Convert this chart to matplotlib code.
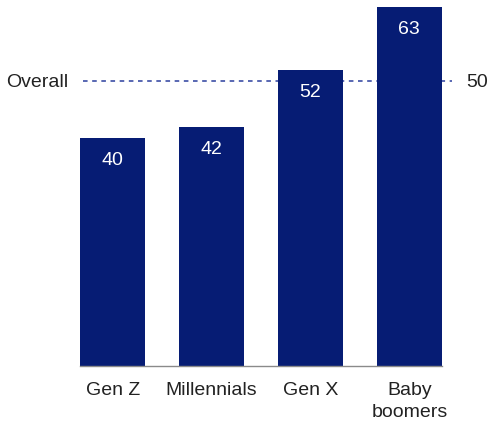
import matplotlib
matplotlib.use("Agg")
import matplotlib.pyplot as plt

categories = ["Gen Z", "Millennials", "Gen X", "Baby\nboomers"]
values = [40, 42, 52, 63]
overall = 50

bar_color = "#061c74"
line_color = "#2b3f9e"

plt.rcParams["font.family"] = ["Liberation Sans", "DejaVu Sans"]

fig = plt.figure(figsize=(4.93, 4.27), dpi=100)
W, H = 493, 427
ax = fig.add_axes([80 / W, 60 / H, 362 / W, 359 / H])

x = list(range(len(categories)))
ax.plot([0.008, 1.028], [overall, overall], transform=ax.get_yaxis_transform(),
        color=line_color, linestyle=(0, (3, 3)), linewidth=1.1, clip_on=False, zorder=1)
bars = ax.bar(x, values, width=0.66, color=bar_color, zorder=2)
for xi, v in zip(x, values):
    ax.annotate(str(v), (xi, v), xytext=(0, -15.5), textcoords="offset points",
                ha="center", va="center", color="white", fontsize=14, zorder=3)

ax.set_xlim(-0.33, 3.33)
ax.set_ylim(0, 63)
ax.set_xticks(x)
ax.set_xticklabels(categories, fontsize=14, color="#222222", linespacing=1.4)
ax.tick_params(axis="x", length=0, pad=11)
ax.set_yticks([])
for s in ["top", "right", "left"]:
    ax.spines[s].set_visible(False)
ax.spines["bottom"].set_color("#8a8a8a")
ax.spines["bottom"].set_linewidth(1)
ax.spines["bottom"].set_zorder(3)

ax.text(-0.033, overall, "Overall", transform=ax.get_yaxis_transform(), ha="right",
        va="center", fontsize=14, color="#222222")
ax.text(1.068, overall, str(overall), transform=ax.get_yaxis_transform(), ha="left",
        va="center", fontsize=14, color="#222222")

fig.savefig("out.png", dpi=100)
